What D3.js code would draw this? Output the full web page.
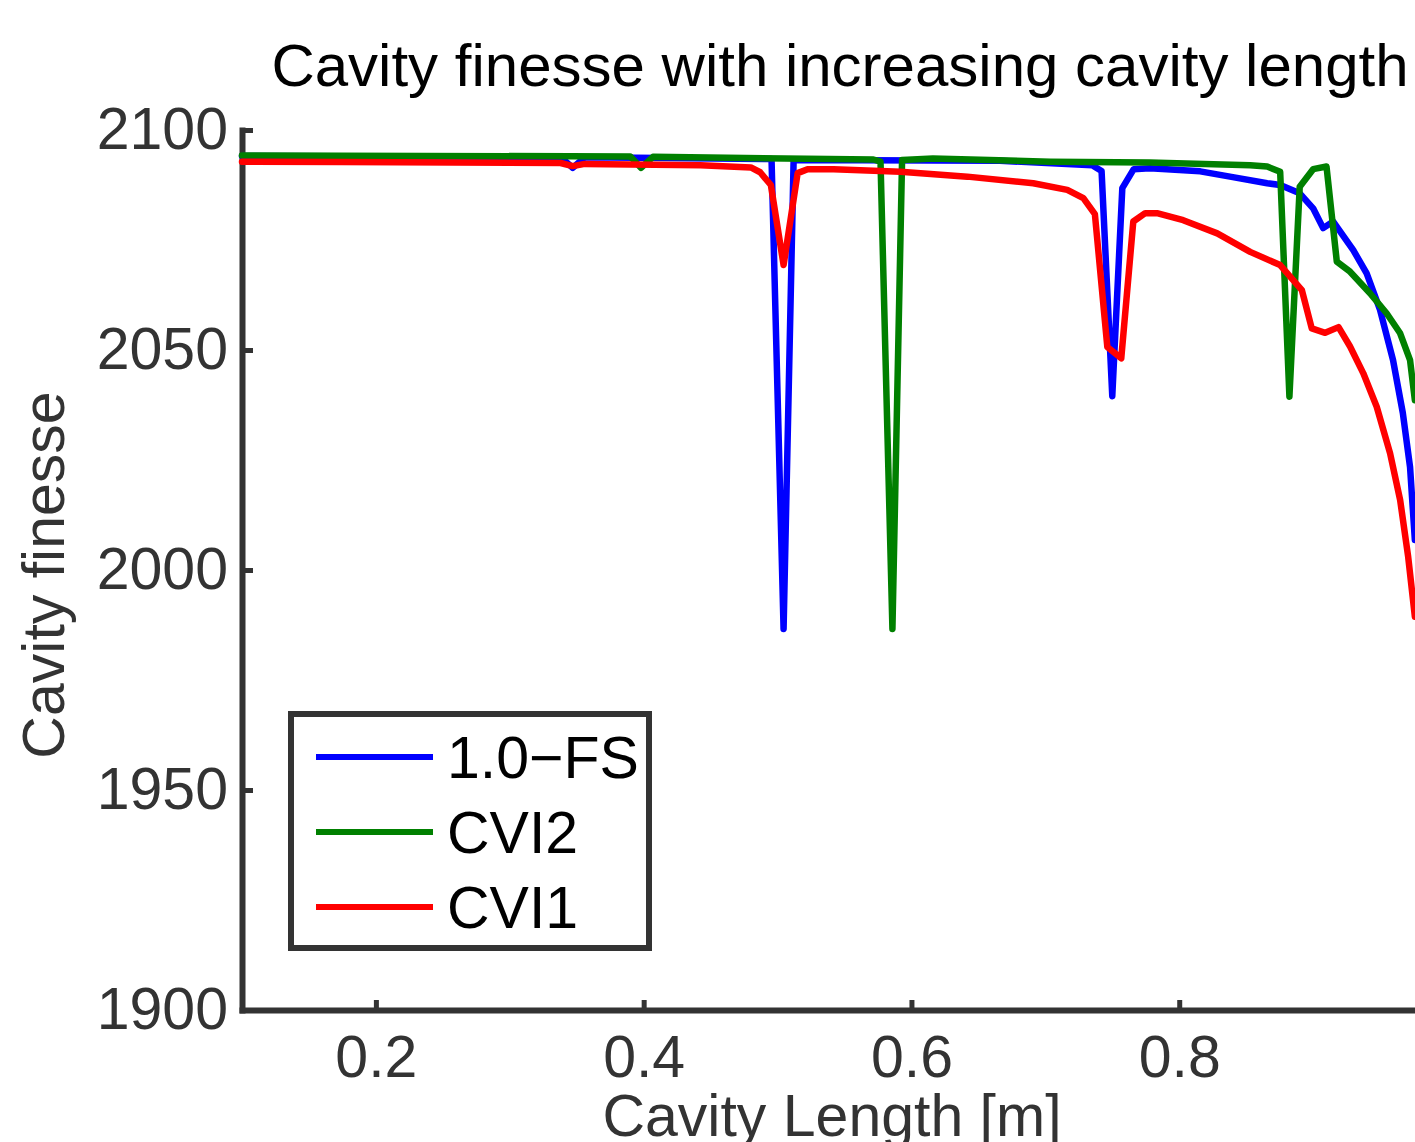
<!DOCTYPE html>
<html lang="en">
<head>
<meta charset="UTF-8">
<title>Cavity finesse</title>
<script src="https://d3js.org/d3.v7.min.js"></script>
<style>
  body { margin: 0; background: #fff; }
  svg { display: block; font-family: "Liberation Sans", Arial, Helvetica, sans-serif; }
  .axis .domain { stroke: #333; stroke-width: 6; }
  .axis .tick line { stroke: #333; stroke-width: 5; }
  .axis .tick text { fill: #333; font-size: 59px; }
</style>
</head>
<body>
<div id="container"></div>
<script>
// x values (cavity length, m) and finesse
var fsX   = [0.1, 0.338, 0.347, 0.356, 0.4955, 0.5045, 0.512, 0.666, 0.735, 0.742, 0.75, 0.7575, 0.766, 0.778,
             0.8157, 0.840, 0.8657, 0.8754, 0.890, 0.900, 0.9075, 0.915, 0.930, 0.940, 0.950, 0.9597, 0.967, 0.9724, 0.976];
var fsY   = [2094.1, 2093.9, 2091.4, 2093.8, 2093.4, 1986.6, 2093.2, 2093.0, 2092.0, 2090.7, 2039.5, 2086.8, 2091.1, 2091.3,
             2090.6, 2089.3, 2087.9, 2087.5, 2085.6, 2082.2, 2077.7, 2079.2, 2072.7, 2067.4, 2059.1, 2047.7, 2035.7, 2023.4, 2006.8];

var cvi2X = [0.1, 0.39, 0.398, 0.407, 0.5716, 0.5769, 0.5858, 0.593, 0.616, 0.7037, 0.778, 0.853, 0.8657, 0.8754,
             0.8823, 0.890, 0.900, 0.910, 0.9177, 0.9276, 0.9425, 0.955, 0.965, 0.9724, 0.976];
var cvi2Y = [2094.2, 2094.0, 2091.4, 2093.9, 2093.3, 2092.8, 1986.6, 2093.2, 2093.5, 2092.8, 2092.6, 2092.0, 2091.7, 2090.5,
             2039.4, 2087.1, 2091.1, 2091.7, 2070.1, 2067.8, 2062.9, 2058.3, 2053.8, 2047.7, 2038.6];

var cvi1X = [0.1, 0.174, 0.338, 0.347, 0.356, 0.4425, 0.480, 0.487, 0.495, 0.5045, 0.515, 0.5224, 0.5418, 0.5918,
             0.6418, 0.691, 0.7164, 0.7284, 0.737, 0.7463, 0.7567, 0.7657, 0.7746, 0.7834, 0.803, 0.8284, 0.853,
             0.8754, 0.8916, 0.899, 0.909, 0.919, 0.9276, 0.9375, 0.9475, 0.9575, 0.965, 0.971, 0.976];
var cvi1Y = [2092.8, 2092.7, 2092.5, 2091.8, 2092.3, 2092.0, 2091.5, 2090.4, 2087.5, 2069.3, 2090.2, 2091.1, 2091.1, 2090.5,
             2089.4, 2087.9, 2086.4, 2084.5, 2080.9, 2050.7, 2048.1, 2079.2, 2081.1, 2081.1, 2079.5, 2076.5, 2072.3,
             2069.3, 2063.6, 2054.9, 2053.9, 2055.2, 2050.8, 2044.7, 2037.1, 2026.5, 2015.9, 2003.0, 1989.4];

var seriesNames  = ["1.0\u2212FS", "CVI2", "CVI1"];
var seriesColors = ["#0000ff", "#008000", "#ff0000"];
var xTicks = [0.2, 0.4, 0.6, 0.8];
var yTicks = [1900, 1950, 2000, 2050, 2100];

var width = 1415, height = 1142;
var svg = d3.select("#container").append("svg").attr("width", width).attr("height", height);

var x = d3.scaleLinear().domain([0.1, 1.0]).range([242, 1447]);
var y = d3.scaleLinear().domain([1900, 2100]).range([1010, 130]);

// axes (ticks point inward, like matlab)
svg.append("g").attr("class", "axis")
    .attr("transform", "translate(0,1010)")
    .call(d3.axisBottom(x).tickValues(xTicks).tickFormat(d3.format(".1f")).tickSizeInner(-10).tickSizeOuter(0).tickPadding(25));

svg.append("g").attr("class", "axis")
    .attr("transform", "translate(242,0)")
    .call(d3.axisLeft(y).tickValues(yTicks).tickFormat(d3.format("d")).tickSizeInner(-11).tickSizeOuter(0).tickPadding(14));

svg.selectAll(".axis .domain").attr("stroke-linecap", "square");

// lines
var series = [
    fsX.map(function (d, i) { return [d, fsY[i]]; }),
    cvi2X.map(function (d, i) { return [d, cvi2Y[i]]; }),
    cvi1X.map(function (d, i) { return [d, cvi1Y[i]]; })
];

var line = d3.line().x(function (d) { return x(d[0]); }).y(function (d) { return y(d[1]); });

series.forEach(function (s, i) {
    svg.append("path")
        .datum(s)
        .attr("fill", "none")
        .attr("stroke", seriesColors[i])
        .attr("stroke-width", 6.5)
        .attr("stroke-linejoin", "round")
        .attr("stroke-linecap", "round")
        .attr("d", line);
});

// title + labels
svg.append("text").attr("x", 840).attr("y", 86).attr("text-anchor", "middle")
    .attr("font-size", 60).attr("fill", "#000").text("Cavity finesse with increasing cavity length");

svg.append("text").attr("x", 832).attr("y", 1136).attr("text-anchor", "middle")
    .attr("font-size", 59).attr("fill", "#333").text("Cavity Length [m]");

svg.append("text").attr("transform", "translate(64,575) rotate(-90)").attr("text-anchor", "middle")
    .attr("font-size", 59).attr("fill", "#333").text("Cavity finesse");

// legend
var lg = svg.append("g");
lg.append("rect").attr("x", 291).attr("y", 714).attr("width", 358).attr("height", 234)
    .attr("fill", "#fff").attr("stroke", "#333").attr("stroke-width", 6);

seriesNames.forEach(function (name, i) {
    var ly = 757 + i * 75;
    lg.append("line").attr("x1", 316).attr("x2", 433).attr("y1", ly).attr("y2", ly)
        .attr("stroke", seriesColors[i]).attr("stroke-width", 6);
    lg.append("text").attr("x", 447).attr("y", ly + 21)
        .attr("font-size", 59).attr("fill", "#000").text(name);
});
</script>
</body>
</html>
